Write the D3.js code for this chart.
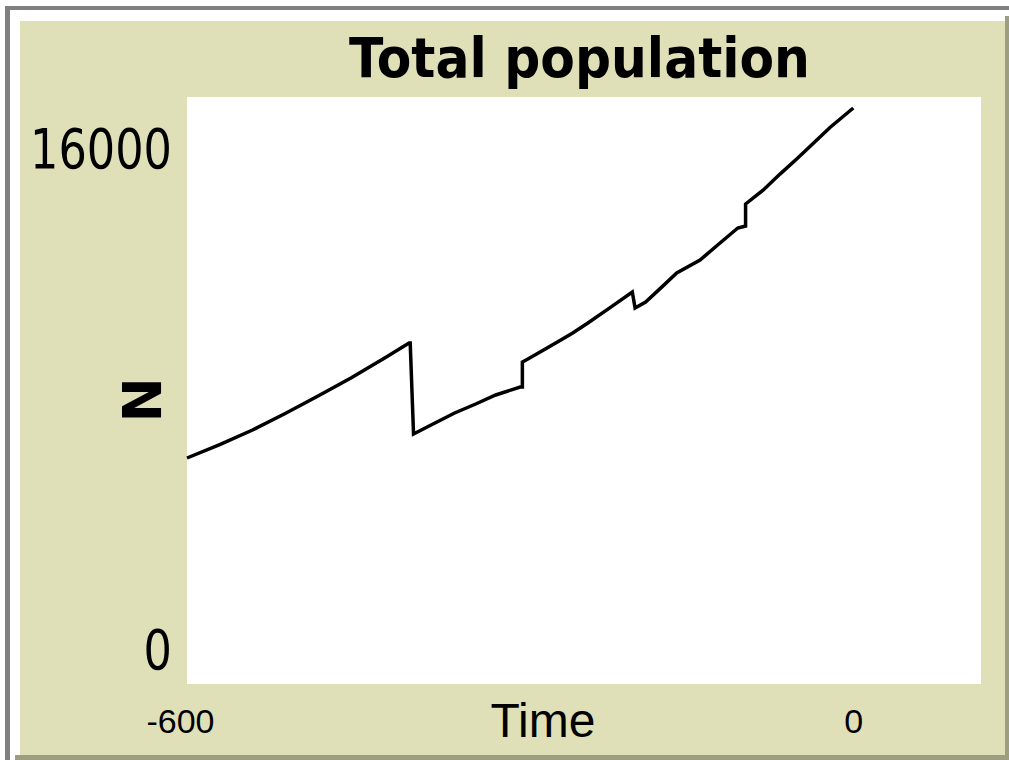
<!DOCTYPE html>
<html>
<head>
<meta charset="utf-8">
<script src="https://cdn.jsdelivr.net/npm/d3@7"></script>
<style>
  html, body { margin: 0; padding: 0; background: #ffffff; }
  svg { display: block; }
</style>
</head>
<body>
<svg id="chart" width="1009" height="760"></svg>
<script>
// ---- data ----
const title = "Total population";
const xLabel = "Time";
const yLabel = "N";
const xTickValues = [-600, 0];
const yTickValues = [0, 16000];
const times = [-600, -570, -541, -512, -482, -452, -422, -400, -399, -396, -378, -359, -340, -322, -300, -298, -298, -295, -282, -268, -253, -239, -219, -199, -196.5, -187, -173, -159, -138, -120, -104, -97, -97, -81, -66, -50, -35, -21, 0];
const population = [6074, 6510, 6969, 7490, 8056, 8640, 9271, 9751, 9751, 6841, 7170, 7513, 7800, 8088, 8344, 8344, 9143, 9200, 9460, 9751, 10060, 10390, 10880, 11381, 10870, 11062, 11520, 11989, 12404, 12948, 13427, 13490, 14195, 14642, 15150, 15665, 16170, 16640, 17264];
const xDomain = [-600, 115];
const yDomain = [-1151, 17615];

// ---- layout ----
const svg = d3.select("#chart");
const W = 1009, H = 760;
const plot = { left: 187, top: 97, right: 981, bottom: 684 };
const beige = "#e0e0b8";

// frame
svg.append("rect").attr("x", 0).attr("y", 0).attr("width", W).attr("height", H).attr("fill", "#ffffff");
svg.append("rect").attr("x", 5).attr("y", 6).attr("width", W - 5).attr("height", 4).attr("fill", "#808080");
svg.append("rect").attr("x", 5).attr("y", 6).attr("width", 5).attr("height", H - 6).attr("fill", "#808080");
svg.append("rect").attr("x", 1005).attr("y", 16).attr("width", 4).attr("height", H - 16).attr("fill", "#9d9d80");
svg.append("rect").attr("x", 15).attr("y", 755).attr("width", W - 15).attr("height", 5).attr("fill", "#9d9d80");
svg.append("rect").attr("x", 20).attr("y", 21).attr("width", 985).attr("height", 734).attr("fill", beige);

// plot area
svg.append("rect")
  .attr("x", plot.left).attr("y", plot.top)
  .attr("width", plot.right - plot.left).attr("height", plot.bottom - plot.top)
  .attr("fill", "#ffffff");

const x = d3.scaleLinear().domain(xDomain).range([plot.left, plot.right]);
const y = d3.scaleLinear().domain(yDomain).range([plot.bottom, plot.top]);

// title
svg.append("text")
  .attr("x", 579.5).attr("y", 77)
  .attr("text-anchor", "middle")
  .attr("font-family", "DejaVu Sans, sans-serif")
  .attr("font-weight", "bold")
  .attr("font-size", 55)
  .attr("textLength", 461).attr("lengthAdjust", "spacingAndGlyphs")
  .attr("fill", "#000")
  .text(title);

// y axis labels
const yAxis = d3.axisLeft(y).tickValues(yTickValues).tickSize(0).tickPadding(0).tickFormat(d => String(d));
const gy = svg.append("g").attr("transform", `translate(172,0)`).call(yAxis);
gy.select(".domain").remove();
gy.selectAll("text")
  .attr("font-family", "DejaVu Sans, sans-serif")
  .attr("font-size", 56)
  .attr("fill", "#000")
  .attr("dy", "0.36em")
  .attr("x", 0)
  .attr("text-anchor", "end")
  .each(function(d) {
    const len = String(d).length;
    d3.select(this).attr("textLength", len * 28.4).attr("lengthAdjust", "spacingAndGlyphs");
  });

// x axis labels
const xAxis = d3.axisBottom(x).tickValues(xTickValues).tickSize(0).tickPadding(0).tickFormat(d => String(d));
const gx = svg.append("g").attr("transform", `translate(0,${plot.bottom})`).call(xAxis);
gx.select(".domain").remove();
gx.selectAll("text")
  .attr("font-family", "Liberation Sans, Arial, sans-serif")
  .attr("font-size", 34)
  .attr("fill", "#000")
  .attr("y", 49)
  .attr("dy", 0)
  .attr("dx", d => d === -600 ? -7 : 0);

// axis titles
svg.append("text")
  .attr("x", 543).attr("y", 737)
  .attr("text-anchor", "middle")
  .attr("font-family", "Liberation Sans, Arial, sans-serif")
  .attr("font-size", 48)
  .attr("fill", "#000")
  .text(xLabel);

svg.append("text")
  .attr("transform", "translate(161,400) rotate(-90)")
  .attr("text-anchor", "middle")
  .attr("font-family", "DejaVu Sans, sans-serif")
  .attr("font-weight", "bold")
  .attr("font-size", 54)
  .attr("fill", "#000")
  .text(yLabel);

// line
const data = times.map((t, i) => ({ t, v: population[i] }));
svg.append("path")
  .datum(data)
  .attr("fill", "none")
  .attr("stroke", "#000")
  .attr("stroke-width", 3.5)
  .attr("stroke-linejoin", "miter")
  .attr("d", d3.line().x(d => x(d.t)).y(d => y(d.v)));
</script>
</body>
</html>
